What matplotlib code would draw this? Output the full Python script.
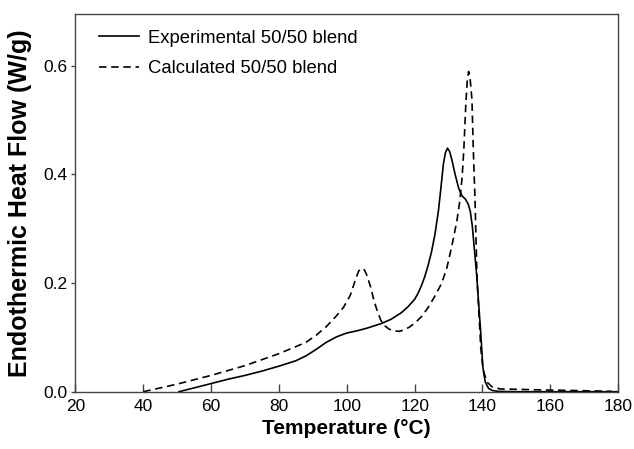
import matplotlib
matplotlib.use("Agg")
import matplotlib.pyplot as plt

plt.rcParams['font.family'] = ['Liberation Sans', 'DejaVu Sans']

# Experimental 50/50 blend (solid)
temp_exp = [50.5, 55, 60, 65, 70, 75, 80, 85, 88, 91, 94, 97, 100, 103, 106,
            110, 113, 116, 118, 120, 121, 122, 123, 124, 125, 126, 127, 127.7,
            128.5, 129.1, 129.7, 130.3, 131, 132, 133, 134, 135, 135.8, 136.4,
            137, 137.5, 137.9, 138.4, 138.8, 139.5, 140.1, 140.8, 141.8, 143,
            145, 150, 180]
heat_exp = [0.0, 0.007, 0.015, 0.023, 0.030, 0.038, 0.047, 0.057, 0.066, 0.078,
            0.091, 0.101, 0.108, 0.112, 0.117, 0.125, 0.133, 0.145, 0.156,
            0.170, 0.181, 0.195, 0.212, 0.233, 0.258, 0.290, 0.332, 0.372,
            0.420, 0.440, 0.448, 0.442, 0.426, 0.398, 0.374, 0.360, 0.354,
            0.345, 0.332, 0.305, 0.270, 0.242, 0.206, 0.169, 0.107, 0.046,
            0.018, 0.006, 0.002, 0.0005, 0.0, 0.0]

# Calculated 50/50 blend (dashed)
temp_calc = [40, 45, 50, 55, 60, 65, 70, 75, 80, 85, 88, 91, 94, 97, 99, 101,
             102.5, 103.5, 104.4, 105.2, 106, 107, 108, 109, 110, 111, 112.5,
             114, 115.5, 117, 118.5, 120, 122, 124, 126, 128, 129.5, 130.5,
             131.5, 132.5, 133.3, 134, 134.5, 135.1, 135.5, 135.9, 136.3, 136.9,
             137.3, 137.8, 138.1, 138.4, 139, 139.5, 140.2, 141.3, 142.8, 145.2,
             150, 160, 170, 178]
heat_calc = [0.0, 0.007, 0.014, 0.022, 0.030, 0.039, 0.048, 0.059, 0.070, 0.083,
             0.091, 0.104, 0.120, 0.140, 0.155, 0.177, 0.205, 0.222, 0.227,
             0.224, 0.213, 0.193, 0.168, 0.148, 0.132, 0.122, 0.115, 0.112,
             0.111, 0.114, 0.119, 0.126, 0.138, 0.155, 0.176, 0.200, 0.228,
             0.255, 0.284, 0.316, 0.350, 0.395, 0.445, 0.530, 0.570, 0.589,
             0.580, 0.537, 0.445, 0.353, 0.280, 0.206, 0.140, 0.080, 0.040,
             0.018, 0.009, 0.005, 0.0044, 0.003, 0.0018, 0.0008]

x_ticks = [20, 40, 60, 80, 100, 120, 140, 160, 180]
y_ticks = [0.0, 0.2, 0.4, 0.6]

fig = plt.figure(figsize=(6.34, 4.49), dpi=100)
ax = fig.add_axes([0.119, 0.1276, 0.856, 0.8415])

ax.plot(temp_exp, heat_exp, color='black', lw=1.2, label='Experimental 50/50 blend')
ax.plot(temp_calc, heat_calc, color='black', lw=1.2, dashes=(4.5, 2.8),
        label='Calculated 50/50 blend')

ax.set_xlim(20, 180)
ax.set_ylim(0, 0.695)
ax.set_xticks(x_ticks)
ax.set_yticks(y_ticks)
ax.set_yticklabels(['%.1f' % v for v in y_ticks])

for s in ax.spines.values():
    s.set_color('#444444')
    s.set_linewidth(1.0)

ax.tick_params(axis='x', direction='in', length=6, width=1, colors='#444444',
               labelcolor='black', labelsize=12.5, pad=5)
ax.tick_params(axis='y', direction='out', length=3, width=1, colors='#444444',
               labelcolor='black', labelsize=12.5, pad=3)

ax.set_xlabel('Temperature (°C)', fontsize=15, fontweight='bold', labelpad=4)
ax.set_ylabel('Endothermic Heat Flow (W/g)', fontsize=18, fontweight='bold', labelpad=8)

ax.legend(loc='upper left', bbox_to_anchor=(0.0433, 0.958), frameon=False,
          fontsize=13.3, borderpad=0, borderaxespad=0, handlelength=2.16,
          handletextpad=0.49, labelspacing=0.74)

fig.savefig('out.png', dpi=100)
